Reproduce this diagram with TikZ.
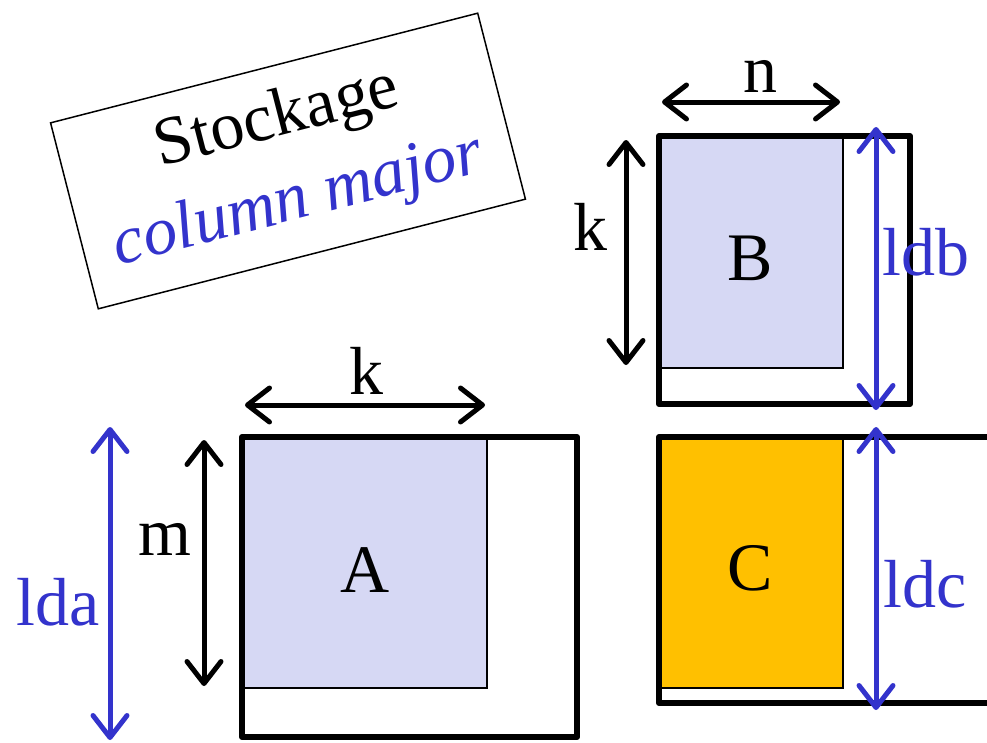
\documentclass[tikz,border=0pt]{standalone}
\usepackage{fontspec}
\setmainfont{Liberation Serif}
\usetikzlibrary{arrows.meta}

\definecolor{ldblue}{RGB}{51,51,204}
\definecolor{lightfill}{RGB}{214,216,244}
\definecolor{cfill}{RGB}{255,192,0}

\begin{document}
\begin{tikzpicture}[x=1pt,y=-1pt,
        big/.style={font=\fontsize{68}{85}\selectfont,inner sep=0pt,anchor=base},
        outerbox/.style={draw,line width=6pt,line join=round},
        innerbox/.style={draw,line width=2pt},
        dim/.style={line width=5pt,
            {Straight Barb[length=22pt,width=34pt,round]}-{Straight Barb[length=22pt,width=34pt,round]}},
        lddim/.style={dim,draw=ldblue}]
    \useasboundingbox (0,0) rectangle (987,742);

    % Title box
    \node[draw,line width=1.5pt,rotate=14.4,minimum width=441pt,minimum height=192pt,
          align=center,font=\fontsize{68}{85}\selectfont] (title) at (288,161)
          {Stockage\\\textcolor{ldblue}{\itshape column major}};

    % Matrix A
    \fill[lightfill] (242,437) rectangle (487,688);
    \draw[innerbox] (242,688) -- (487,688) -- (487,437);
    \draw[outerbox] (242,437) rectangle (577,737);
    \node[big] (labA) at (365,592) {A};

    % Matrix B
    \fill[lightfill] (659,136) rectangle (843,368);
    \draw[innerbox] (659,368) -- (843,368) -- (843,136);
    \draw[outerbox] (659,136) rectangle (910,404);
    \node[big] (labB) at (750,280) {B};

    % Matrix C (open on the right)
    \fill[cfill] (659,437) rectangle (843,688);
    \draw[innerbox] (659,688) -- (843,688) -- (843,437);
    \draw[outerbox] (1000,437) -- (659,437) -- (659,703) -- (1000,703);
    \node[big] (labC) at (750,590) {C};

    % Dimension end points
    \coordinate (kA1) at (245,405);
    \coordinate (kA2) at (485,405);
    \coordinate (m1) at (204,440);
    \coordinate (m2) at (204,686);
    \coordinate (lda1) at (110,427);
    \coordinate (lda2) at (110,740);
    \coordinate (n1) at (662,102);
    \coordinate (n2) at (840,102);
    \coordinate (kB1) at (626,140);
    \coordinate (kB2) at (626,365);
    \coordinate (ldb1) at (876,127);
    \coordinate (ldb2) at (876,410);
    \coordinate (ldc1) at (876,427);
    \coordinate (ldc2) at (876,710);

    % Dimension arrows
    \draw[dim] (kA1) -- (kA2);
    \draw[dim] (m1) -- (m2);
    \draw[dim] (n1) -- (n2);
    \draw[dim] (kB1) -- (kB2);
    \draw[lddim] (lda1) -- (lda2);
    \draw[lddim] (ldb1) -- (ldb2);
    \draw[lddim] (ldc1) -- (ldc2);

    % Dimension labels
    \node[big] (labkA) at (366,394) {k};
    \node[big] (labm) at (165,555) {m};
    \node[big] (labn) at (760,92) {n};
    \node[big] (labkB) at (590,250) {k};
    \node[big,text=ldblue] (labda) at (58,625) {lda};
    \node[big,text=ldblue] (labdb) at (926,275) {ldb};
    \node[big,text=ldblue] (labdc) at (925,607) {ldc};
\end{tikzpicture}
\end{document}
